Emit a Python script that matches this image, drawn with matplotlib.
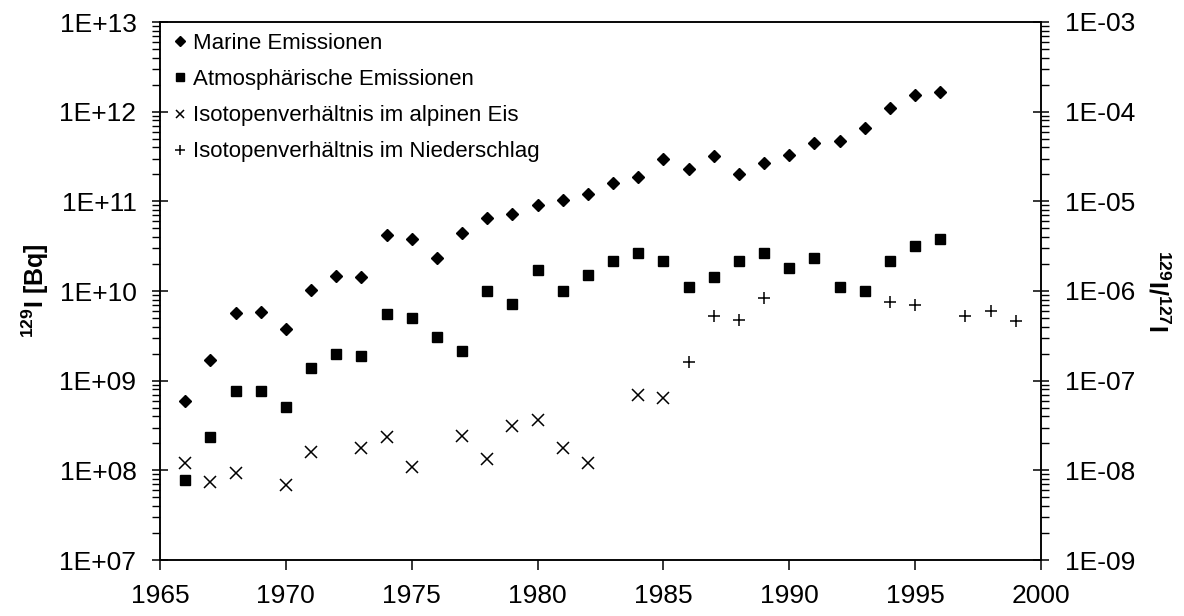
import matplotlib
matplotlib.use("Agg")
import matplotlib.pyplot as plt
from matplotlib.ticker import FuncFormatter, FixedLocator, NullFormatter
import numpy as np

plt.rcParams['font.family'] = ['Liberation Sans', 'DejaVu Sans']
plt.rcParams['mathtext.fontset'] = 'custom'
plt.rcParams['mathtext.rm'] = 'Liberation Sans'
plt.rcParams['mathtext.bf'] = 'Liberation Sans:bold'

# ---- data ----
marine_years = list(range(1966, 1997))
marine_values = [5.9e8, 1.71e9, 5.7e9, 5.9e9, 3.8e9, 1.03e10, 1.48e10, 1.43e10, 4.2e10, 3.8e10,
                 2.34e10, 4.4e10, 6.6e10, 7.2e10, 9.0e10, 1.03e11, 1.2e11, 1.62e11, 1.85e11, 3.0e11,
                 2.3e11, 3.17e11, 2.0e11, 2.66e11, 3.3e11, 4.5e11, 4.7e11, 6.5e11, 1.1e12, 1.52e12,
                 1.66e12]

atmo_years = list(range(1966, 1997))
atmo_values = [7.9e7, 2.33e8, 7.7e8, 7.7e8, 5.1e8, 1.38e9, 1.98e9, 1.88e9, 5.5e9, 5.05e9,
               3.1e9, 2.15e9, 1.0e10, 7.2e9, 1.7e10, 1.0e10, 1.5e10, 2.16e10, 2.68e10, 2.16e10,
               1.1e10, 1.45e10, 2.16e10, 2.68e10, 1.8e10, 2.35e10, 1.1e10, 1.0e10, 2.16e10, 3.2e10,
               3.8e10]

ice_years = [1966, 1967, 1968, 1970, 1971, 1973, 1974, 1975, 1977, 1978, 1979, 1980, 1981, 1982,
             1984, 1985]
ice_ratio = [1.2e-8, 7.4e-9, 9.4e-9, 6.9e-9, 1.61e-8, 1.77e-8, 2.33e-8, 1.08e-8, 2.4e-8, 1.35e-8,
             3.13e-8, 3.6e-8, 1.77e-8, 1.2e-8, 7.0e-8, 6.45e-8]

rain_years = [1986, 1987, 1988, 1989, 1994, 1995, 1997, 1998, 1999]
rain_ratio = [1.63e-7, 5.2e-7, 4.7e-7, 8.4e-7, 7.5e-7, 7.0e-7, 5.3e-7, 6.0e-7, 4.6e-7]

labels = ["Marine Emissionen", "Atmosphärische Emissionen",
          "Isotopenverhältnis im alpinen Eis", "Isotopenverhältnis im Niederschlag"]

x_ticks = [1965, 1970, 1975, 1980, 1985, 1990, 1995, 2000]
left_exponents = [7, 8, 9, 10, 11, 12, 13]
right_exponents = [-9, -8, -7, -6, -5, -4, -3]

# ---- figure ----
fig = plt.figure(figsize=(11.84, 6.16), dpi=100)
ax = fig.add_axes([160 / 1184, 1 - 560 / 616, (1041 - 160) / 1184, (560 - 22) / 616])
ax2 = ax.twinx()

h1, = ax.plot(marine_years, marine_values, linestyle='none', marker='D', markersize=6.3,
              color='black', label=labels[0])
h2, = ax.plot(atmo_years, atmo_values, linestyle='none', marker='s', markersize=7.6,
              color='black', label=labels[1])
h3, = ax2.plot(ice_years, ice_ratio, linestyle='none', marker='x', markersize=8,
               markeredgewidth=1.1, color='black', label=labels[2])
h4, = ax2.plot(rain_years, rain_ratio, linestyle='none', marker='+', markersize=9,
               markeredgewidth=1.1, color='black', label=labels[3])

fmt = FuncFormatter(lambda v, p: "1E%+03d" % int(round(np.log10(v))))
for a, exps in ((ax, left_exponents), (ax2, right_exponents)):
    a.set_yscale('log')
    a.set_ylim(10.0 ** exps[0], 10.0 ** exps[-1])
    majors = [10.0 ** e for e in exps]
    minors = [m * 10.0 ** e for e in exps[:-1] for m in range(2, 10)]
    a.yaxis.set_major_locator(FixedLocator(majors))
    a.yaxis.set_minor_locator(FixedLocator(minors))
    a.yaxis.set_major_formatter(fmt)
    a.yaxis.set_minor_formatter(NullFormatter())
    for s in a.spines.values():
        s.set_linewidth(1.1)

ax.set_xlim(x_ticks[0], x_ticks[-1])
ax.set_xticks(x_ticks)
ax.set_xticklabels([str(t) for t in x_ticks])

ax.tick_params(axis='y', which='major', direction='inout', length=12, width=1.1, labelsize=19, pad=11)
ax.tick_params(axis='y', which='minor', direction='out', length=5.8, width=1.0)
ax.tick_params(axis='x', which='major', direction='out', length=7, width=1.1, labelsize=19, pad=10)
ax2.tick_params(axis='y', which='major', direction='inout', length=12, width=1.1, labelsize=19, pad=11)
ax2.tick_params(axis='y', which='minor', direction='out', length=5.8, width=1.0)

ax.set_ylabel(r'$^{\mathbf{129}}$I [Bq]', fontsize=18, fontweight='bold', labelpad=6)
ax2.set_ylabel(r'$^{\mathbf{129}}$I/$^{\mathbf{127}}$I', fontsize=18, fontweight='bold',
               rotation=270, labelpad=25)

leg = ax.legend(handles=[h1, h2, h3, h4], loc='upper left', frameon=False, fontsize=16,
                handlelength=0.8, handletextpad=0.17, borderaxespad=0.2, labelspacing=0.68,
                markerscale=0.8, borderpad=0.3)

fig.savefig('out.png', dpi=100)
